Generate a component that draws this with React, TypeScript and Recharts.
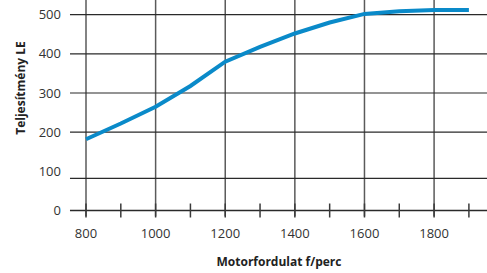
import { LineChart, Line, XAxis, YAxis, ReferenceLine, Label } from 'recharts'

const rpm = [800, 900, 1000, 1100, 1200, 1300, 1400, 1500, 1600, 1700, 1800, 1900]
const power = [182, 222, 265, 318, 380, 418, 452, 480, 502, 509, 512, 512]

const xTicks = [800, 900, 1000, 1100, 1200, 1300, 1400, 1500, 1600, 1700, 1800, 1900]
const xLabels = [800, 1000, 1200, 1400, 1600, 1800]
const yTicks = [0, 100, 200, 300, 400, 500]
// the "100" rule sits a little low in the original
const hGrid = [0, 82, 200, 300, 400, 500]
const vGrid = [800, 1000, 1200, 1400, 1600, 1800]

const X_MAX = 1952
const Y_MAX = 537.5

const data = rpm.map((r, i) => ({ rpm: r, power: power[i] }))

const font = "'Open Sans', sans-serif"

function RpmTick({ x, y, payload }: any) {
  const v = payload.value
  return (
    <g>
      <line x1={x} x2={x} y1={y - 7} y2={y + 7} stroke="#3a3a3a" strokeWidth={1.5} />
      {xLabels.includes(v) && (
        <text x={x} y={y + 27} textAnchor="middle" fontSize={13} fill="#333" fontFamily={font}>
          {v}
        </text>
      )}
    </g>
  )
}

export default function App() {
  return (
    <div style={{ position: 'absolute', left: 0, top: 0, fontFamily: font }}>
      <LineChart
        width={487}
        height={273}
        data={data}
        margin={{ top: 0, right: 0, bottom: 0, left: 0 }}
        style={{ fontFamily: font }}
      >
        <XAxis
          dataKey="rpm"
          type="number"
          domain={[800, X_MAX]}
          ticks={xTicks}
          interval={0}
          height={62.5}
          axisLine={false}
          tickLine={false}
          tickSize={0}
          tickMargin={0}
          tick={<RpmTick />}
        >
          <Label
            content={() => (
              <text x={279} y={266} textAnchor="middle" fontSize={12} fontWeight={700} fill="#222" fontFamily={font}>
                Motorfordulat f/perc
              </text>
            )}
          />
        </XAxis>
        <YAxis
          type="number"
          domain={[0, Y_MAX]}
          ticks={yTicks}
          interval={0}
          width={86}
          axisLine={false}
          tickLine={false}
          tickSize={0}
          tickMargin={25}
          tick={{ fontSize: 13, fill: '#333', fontFamily: font }}
        >
          <Label
            content={() => (
              <text
                transform="translate(25,88) rotate(-90)"
                textAnchor="middle"
                fontSize={12}
                fontWeight={700}
                fill="#222"
                fontFamily={font}
              >
                Teljesítmény LE
              </text>
            )}
          />
        </YAxis>
        {vGrid.map((v) => (
          <ReferenceLine
            key={'v' + v}
            ifOverflow="visible"
            segment={[
              { x: v, y: -15 },
              { x: v, y: Y_MAX },
            ]}
            stroke="#5a5a5a"
            strokeWidth={1.5}
          />
        ))}
        {hGrid.map((v) => (
          <ReferenceLine
            key={'h' + v}
            ifOverflow="visible"
            segment={[
              { x: 754, y: v },
              { x: X_MAX, y: v },
            ]}
            stroke="#2a2a2a"
            strokeWidth={v === 0 ? 1.5 : 1.2}
          />
        ))}
        <Line
          type="linear"
          dataKey="power"
          stroke="#0a8ac9"
          strokeWidth={4}
          dot={false}
          activeDot={false}
          isAnimationActive={false}
        />
      </LineChart>
    </div>
  )
}
